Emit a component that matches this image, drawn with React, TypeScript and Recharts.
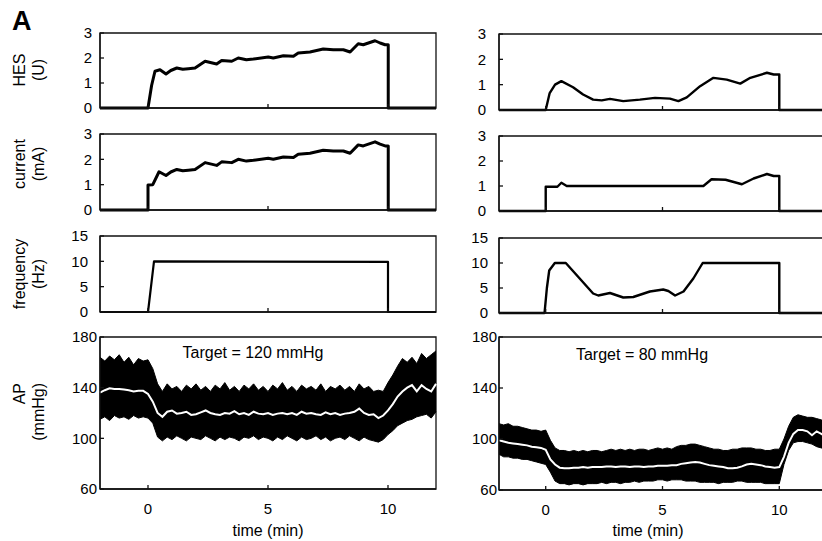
import React from 'react';
import { ComposedChart, Line, Area, XAxis, YAxis, ReferenceArea } from 'recharts';

const FONT = '"Liberation Sans", Arial, Helvetica, sans-serif';

// ---- left column (Target = 120 mmHg) ----
const hesLeftT = [-2, 0, 0.15, 0.29, 0.5, 0.75, 0.95, 1.2, 1.45, 1.68, 1.96, 2.38, 2.86, 3.07, 3.49, 3.76, 4.1, 4.39, 5.01, 5.22, 5.64, 6.06, 6.26, 6.75, 7.3, 7.72, 8.14, 8.42, 8.76, 8.97, 9.46, 9.67, 9.88, 10.01, 10.01, 12];
const hesLeftV = [0, 0, 0.9, 1.47, 1.53, 1.36, 1.5, 1.6, 1.55, 1.57, 1.6, 1.87, 1.76, 1.9, 1.87, 2.0, 1.93, 1.96, 2.04, 2.0, 2.09, 2.07, 2.2, 2.24, 2.36, 2.33, 2.33, 2.24, 2.57, 2.53, 2.69, 2.6, 2.53, 2.53, 0, 0];

const curLeftT = [-2, 0, 0, 0.2, 0.46, 0.75, 0.95, 1.2, 1.45, 1.68, 1.96, 2.38, 2.86, 3.07, 3.49, 3.76, 4.1, 4.39, 5.01, 5.22, 5.64, 6.06, 6.26, 6.75, 7.3, 7.72, 8.14, 8.42, 8.76, 8.97, 9.46, 9.67, 9.88, 10.01, 10.01, 12];
const curLeftV = [0, 0, 0.99, 1.0, 1.51, 1.36, 1.5, 1.6, 1.55, 1.57, 1.6, 1.87, 1.76, 1.9, 1.87, 2.0, 1.93, 1.96, 2.04, 2.0, 2.09, 2.07, 2.2, 2.24, 2.36, 2.33, 2.33, 2.24, 2.57, 2.53, 2.69, 2.6, 2.53, 2.53, 0, 0];

const freqLeftT = [-2, 0, 0.25, 10, 10, 12];
const freqLeftV = [0, 0, 10, 9.9, 0, 0];

// ---- right column (Target = 80 mmHg) ----
const hesRightT = [-2, 0, 0.17, 0.4, 0.67, 1.17, 1.6, 2.03, 2.4, 2.75, 3.32, 4.03, 4.68, 5.32, 5.68, 6.04, 6.61, 7.18, 7.75, 8.33, 8.76, 9.47, 9.76, 10, 10, 12];
const hesRightV = [0, 0, 0.67, 1.0, 1.14, 0.9, 0.61, 0.41, 0.38, 0.44, 0.35, 0.41, 0.48, 0.45, 0.35, 0.5, 0.94, 1.27, 1.2, 1.04, 1.27, 1.47, 1.4, 1.4, 0, 0];

const curRightT = [-2, 0, 0, 0.5, 0.67, 0.9, 6.75, 7.1, 7.7, 8.4, 8.9, 9.47, 9.76, 10, 10, 12];
const curRightV = [0, 0, 0.97, 0.97, 1.13, 1.0, 1.0, 1.27, 1.25, 1.07, 1.3, 1.48, 1.4, 1.4, 0, 0];

const freqRightT = [-2, -0.05, 0.05, 0.15, 0.39, 0.86, 2.03, 2.25, 2.75, 3.32, 3.75, 4.46, 5.03, 5.25, 5.54, 5.9, 6.32, 6.72, 10, 10, 12];
const freqRightV = [0, 0, 5, 8.5, 10, 10, 3.9, 3.5, 4.0, 3.1, 3.2, 4.3, 4.7, 4.4, 3.5, 4.3, 6.9, 10, 10, 0, 0];

// ---- arterial pressure traces, sampled every 0.2 min ----
const apTime = [
  -2.0, -1.8, -1.6, -1.4, -1.2, -1.0, -0.8, -0.6, -0.4, -0.2,
  0.0, 0.2, 0.4, 0.6, 0.8, 1.0, 1.2, 1.4, 1.6, 1.8,
  2.0, 2.2, 2.4, 2.6, 2.8, 3.0, 3.2, 3.4, 3.6, 3.8,
  4.0, 4.2, 4.4, 4.6, 4.8, 5.0, 5.2, 5.4, 5.6, 5.8,
  6.0, 6.2, 6.4, 6.6, 6.8, 7.0, 7.2, 7.4, 7.6, 7.8,
  8.0, 8.2, 8.4, 8.6, 8.8, 9.0, 9.2, 9.4, 9.6, 9.8,
  10.0, 10.2, 10.4, 10.6, 10.8, 11.0, 11.2, 11.4, 11.6, 11.8,
  12.0,
];

const apLeftHi = [
  164, 161, 165, 162, 166, 160, 164, 158, 163, 161,
  162, 155, 143, 137, 143, 139, 141, 137, 142, 139,
  143, 138, 141, 137, 142, 139, 144, 138, 141, 137,
  142, 139, 143, 138, 141, 137, 142, 139, 144, 138,
  141, 137, 142, 139, 141, 138, 143, 137, 141, 139,
  142, 138, 141, 137, 143, 139, 141, 137, 138, 137,
  144, 150, 157, 163, 160, 164, 159, 167, 163, 166,
  169,
];
const apLeftLo = [
  115, 117, 114, 118, 116, 117, 115, 118, 116, 117,
  116, 112, 101, 98, 101, 99, 102, 100, 98, 101,
  100, 99, 102, 100, 98, 101, 99, 101, 100, 98,
  101, 100, 102, 99, 101, 100, 98, 101, 99, 102,
  100, 98, 101, 99, 100, 102, 99, 101, 98, 100,
  101, 99, 102, 100, 98, 101, 99, 98, 97, 99,
  103, 106, 110, 112, 114, 115, 117, 118, 119, 116,
  121,
];
const apLeftMean = [
  136, 138, 139.5, 139, 139, 138.5, 138, 137, 137.5, 137.5,
  135, 129, 120, 117, 121, 122, 119.5, 120, 121, 118.5,
  119, 120.5, 122, 120, 119, 118.5, 120, 119.5, 121.5, 119,
  120, 118.5, 121, 119.5, 119, 120, 118.5, 119.5, 120, 119,
  120, 118.5, 121, 119.5, 120, 119, 118.5, 120.5, 119, 120,
  118.5, 119.5, 120, 121, 123.5, 120, 118.5, 119, 116, 118,
  122, 127, 133, 137, 140, 142, 137, 142, 139, 137,
  143,
];

const apRightHi = [
  112, 111, 112, 110, 110, 109, 108, 107, 107, 106,
  107, 99, 93, 91, 91, 90, 91, 90, 91, 90,
  91, 91, 90, 91, 92, 91, 92, 91, 92, 91,
  92, 92, 91, 92, 93, 92, 93, 92, 94, 95,
  95, 96, 96, 95, 94, 93, 92, 92, 91, 91,
  92, 92, 93, 93, 93, 92, 92, 91, 91, 92,
  92, 100, 110, 117, 119, 118, 117, 117, 116, 115,
  114,
];
const apRightLo = [
  88, 86, 86, 85, 85, 84, 84, 83, 82, 81,
  80, 74, 67, 65, 65, 64, 65, 65, 64, 65,
  65, 65, 66, 65, 66, 66, 65, 66, 66, 67,
  66, 67, 67, 67, 68, 68, 67, 68, 68, 68,
  67, 67, 67, 66, 66, 66, 66, 65, 66, 66,
  66, 67, 67, 66, 66, 66, 66, 65, 65, 65,
  65, 80, 91, 97, 98, 98, 97, 96, 94, 93,
  91,
];
const apRightMean = [
  99, 98, 97, 96.5, 96, 95.5, 95, 94, 93.5, 93,
  91.5, 84, 80, 77.5, 77, 77, 77.5, 77.5, 78, 77.5,
  78, 78, 78, 78.5, 78.5, 78, 78.5, 78.5, 78, 78.5,
  78.5, 78, 78.5, 78.5, 79, 79, 79, 79.5, 79.5, 80.5,
  81, 81.5, 82, 81.5, 80.5, 79.5, 79, 78.5, 78, 77,
  77, 77.5, 78.5, 80, 80.5, 80, 79.5, 78.5, 78, 77.5,
  78, 86, 97, 104, 107, 107, 106, 103, 106, 104,
  102,
];

const xTicks = [0, 5, 10];
const smallTicks = [0, 1, 2, 3];
const freqTicks = [0, 5, 10, 15];
const apTicks = [60, 100, 140, 180];

const toSeries = (t: number[], v: number[]) => t.map((x, i) => ({ t: x, v: v[i] }));
const toBand = (lo: number[], hi: number[], mean: number[]) =>
  apTime.map((t, i) => ({ t, range: [lo[i], hi[i]], mean: mean[i] }));

// margins around each plot box
const ML = 60;
const MT = 14;
const MR = 6;
const MB = 30;

type PanelProps = {
  left: number;
  top: number;
  width: number;
  height: number;
  yDomain: [number, number];
  yTicks: number[];
  gap: number;
  xLabels?: boolean;
  data: any[];
  children: React.ReactNode;
};

const Panel = ({ left, top, width, height, yDomain, yTicks, gap, xLabels, data, children }: PanelProps) => (
  <div style={{ position: 'absolute', left: left - ML, top: top - MT }}>
    <ComposedChart
      width={width + ML + MR}
      height={height + MT + MB}
      data={data}
      margin={{ top: MT, right: MR, left: 0, bottom: 0 }}
    >
      <XAxis
        type="number"
        dataKey="t"
        domain={[-2, 12]}
        ticks={xTicks}
        interval={0}
        height={MB}
        tickSize={-4}
        tickMargin={18}
        axisLine={{ stroke: '#111', strokeWidth: 1.3 }}
        tickLine={{ stroke: '#111', strokeWidth: 1.3 }}
        tickFormatter={(v: number) => (xLabels ? String(v) : '')}
        tick={{ fill: '#000', fontSize: 15, fontFamily: FONT }}
      />
      <YAxis
        type="number"
        domain={yDomain}
        ticks={yTicks}
        interval={0}
        width={ML}
        tickSize={-4}
        tickMargin={gap + 4}
        axisLine={{ stroke: '#111', strokeWidth: 1.3 }}
        tickLine={{ stroke: '#111', strokeWidth: 1.3 }}
        tick={{ fill: '#000', fontSize: 15, fontFamily: FONT }}
      />
      <ReferenceArea x1={-2} x2={12} y1={yDomain[0]} y2={yDomain[1]} fill="none" stroke="#111" strokeWidth={1.3} />
      {children}
    </ComposedChart>
  </div>
);

const trace = (w: number) => (
  <Line type="linear" dataKey="v" stroke="#000" strokeWidth={w} dot={false} activeDot={false} isAnimationActive={false} strokeLinejoin="round" />
);

const band = () => [
  <Area key="b" type="linear" dataKey="range" stroke="#000" strokeWidth={1} fill="#000" fillOpacity={1} dot={false} activeDot={false} isAnimationActive={false} />,
  <Line key="m" type="linear" dataKey="mean" stroke="#fff" strokeWidth={2} dot={false} activeDot={false} isAnimationActive={false} />,
];

const yTitle = (x: number, y: number, text: string, anchor: string = 'middle') => (
  <text
    key={text}
    transform={`translate(${x},${y}) rotate(-90)`}
    textAnchor={anchor}
    dominantBaseline="central"
    fontSize={16}
    fontFamily={FONT}
    fill="#000"
  >
    {text}
  </text>
);

export default function App() {
  return (
    <div style={{ position: 'absolute', left: 0, top: 0, width: 822, height: 541, overflow: 'hidden', background: '#fff' }}>
      {/* left column */}
      <Panel left={100} top={33} width={336} height={75} yDomain={[0, 3]} yTicks={smallTicks} gap={8} data={toSeries(hesLeftT, hesLeftV)}>
        {trace(3)}
      </Panel>
      <Panel left={100} top={134} width={336} height={76} yDomain={[0, 3]} yTicks={smallTicks} gap={8} data={toSeries(curLeftT, curLeftV)}>
        {trace(3)}
      </Panel>
      <Panel left={100} top={236} width={336} height={76} yDomain={[0, 15]} yTicks={freqTicks} gap={12} data={toSeries(freqLeftT, freqLeftV)}>
        {trace(2.2)}
      </Panel>
      <Panel left={100} top={337} width={336} height={152} yDomain={[60, 180]} yTicks={apTicks} gap={3} xLabels data={toBand(apLeftLo, apLeftHi, apLeftMean)}>
        {band()}
      </Panel>

      {/* right column */}
      <Panel left={499} top={34} width={327} height={76} yDomain={[0, 3]} yTicks={smallTicks} gap={13} data={toSeries(hesRightT, hesRightV)}>
        {trace(2.4)}
      </Panel>
      <Panel left={499} top={136} width={327} height={75} yDomain={[0, 3]} yTicks={smallTicks} gap={13} data={toSeries(curRightT, curRightV)}>
        {trace(2.4)}
      </Panel>
      <Panel left={499} top={238} width={327} height={75} yDomain={[0, 15]} yTicks={freqTicks} gap={11} data={toSeries(freqRightT, freqRightV)}>
        {trace(2.4)}
      </Panel>
      <Panel left={499} top={337} width={327} height={153} yDomain={[60, 180]} yTicks={apTicks} gap={2} xLabels data={toBand(apRightLo, apRightHi, apRightMean)}>
        {band()}
      </Panel>

      <svg width={822} height={541} style={{ position: 'absolute', left: 0, top: 0, pointerEvents: 'none' }}>
        <text x={12} y={30} fontSize={27} fontWeight="bold" fontFamily={FONT} fill="#000">A</text>
        {yTitle(19, 70, 'HES')}
        {yTitle(38, 70, '(U)')}
        {yTitle(19, 164, 'current')}
        {yTitle(38, 164, '(mA)')}
        {yTitle(19, 274, 'frequency')}
        {yTitle(38, 274, '(Hz)')}
        {yTitle(19, 383, 'AP', 'end')}
        {yTitle(38, 383, '(mmHg)', 'end')}
        <text x={268} y={536} textAnchor="middle" fontSize={16} fontFamily={FONT} fill="#000">time (min)</text>
        <text x={648} y={536} textAnchor="middle" fontSize={16} fontFamily={FONT} fill="#000">time (min)</text>
        <text x={253} y={358} textAnchor="middle" fontSize={16} fontFamily={FONT} fill="#000">Target = 120 mmHg</text>
        <text x={642} y={360} textAnchor="middle" fontSize={16} fontFamily={FONT} fill="#000">Target = 80 mmHg</text>
      </svg>
    </div>
  );
}
